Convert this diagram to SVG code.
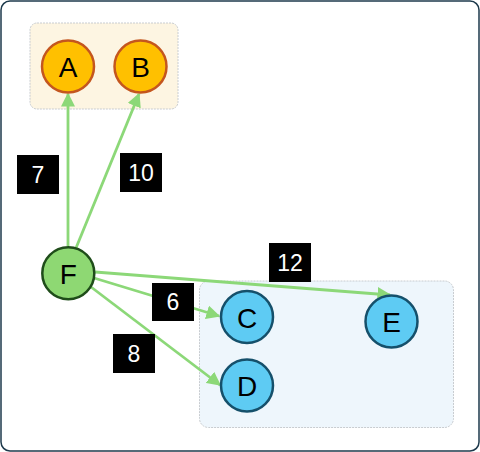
<svg xmlns="http://www.w3.org/2000/svg" width="480" height="452" viewBox="0 0 480 452">
<style>
.frame{fill:#fff;stroke:#1e3a4c;stroke-width:1.5}
.grp{stroke:#c8ccd0;stroke-width:1;stroke-dasharray:2 1}
.edge{stroke:#8cd878;stroke-width:2.8;fill:none}
.nlab{font-family:"Liberation Sans",Arial,sans-serif;font-size:28px;fill:#000;text-anchor:middle;dominant-baseline:central}
.elab rect{fill:#000}
.elab text{font-family:"Liberation Sans",Arial,sans-serif;font-size:23px;fill:#fff;text-anchor:middle;dominant-baseline:central}
.orange{fill:#ffc000;stroke:#c4561e;stroke-width:2.5}
.green{fill:#8ed873;stroke:#1f4d1a;stroke-width:2.5}
.blue{fill:#5ecbf3;stroke:#15506b;stroke-width:2.5}
</style>
<defs>
<marker id="arr" viewBox="0 0 10 10" refX="9" refY="5" markerWidth="5" markerHeight="5" orient="auto" markerUnits="strokeWidth">
<path d="M0,0 L10,5 L0,10 z" fill="#8cd878"/>
</marker>
</defs>
<rect class="frame" x="1" y="1" width="478" height="450" rx="9"/>
<rect id="group-top" class="grp" x="30" y="23" width="148" height="86" rx="7" fill="#fdf5e2"/>
<rect id="group-bottom" class="grp" x="199.5" y="281" width="254" height="146.5" rx="9" fill="#eef6fc"/>
<g id="connectors">
<line class="edge" x1="68" y1="246" x2="68" y2="94" marker-end="url(#arr)"/>
<line class="edge" x1="76" y1="248" x2="139" y2="94" marker-end="url(#arr)"/>
<line class="edge" x1="94" y1="278" x2="219" y2="316" marker-end="url(#arr)"/>
<line class="edge" x1="91" y1="287" x2="220" y2="385" marker-end="url(#arr)"/>
<line class="edge" x1="95" y1="272" x2="390" y2="295" marker-end="url(#arr)"/>
</g>
<g id="labels" class="elab">
<g id="label-7"><rect x="17" y="155" width="42" height="39"/><text x="38" y="174.5">7</text></g>
<g id="label-10"><rect x="120" y="153" width="42" height="39"/><text x="141" y="172.5">10</text></g>
<g id="label-6"><rect x="152" y="283" width="42" height="38"/><text x="173" y="302">6</text></g>
<g id="label-8"><rect x="113" y="334" width="42" height="39"/><text x="134" y="353.5">8</text></g>
<g id="label-12"><rect x="269" y="243" width="42" height="39"/><text x="290" y="262.5">12</text></g>
</g>
<g id="node-A"><circle class="orange" cx="68" cy="66.5" r="26"/><text class="nlab" x="68" y="67.5">A</text></g>
<g id="node-B"><circle class="orange" cx="140.5" cy="66.5" r="26"/><text class="nlab" x="140.5" y="67.5">B</text></g>
<g id="node-F"><circle class="green" cx="68.3" cy="273.3" r="26"/><text class="nlab" x="68.3" y="274.3">F</text></g>
<g id="node-C"><circle class="blue" cx="247" cy="317" r="26"/><text class="nlab" x="247" y="318">C</text></g>
<g id="node-D"><circle class="blue" cx="247" cy="385.5" r="26"/><text class="nlab" x="247" y="386.5">D</text></g>
<g id="node-E"><circle class="blue" cx="391.5" cy="321.5" r="26"/><text class="nlab" x="391.5" y="322.5">E</text></g>
</svg>
